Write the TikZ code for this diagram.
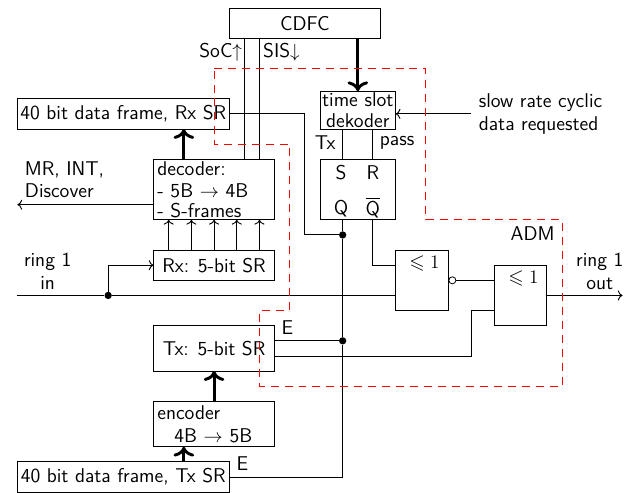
\documentclass[tikz,border=0pt]{standalone}
\usepackage{amsmath,amssymb}
\usepackage{tikz}
\usetikzlibrary{arrows.meta}

\tikzset{
  >={Computer Modern Rightarrow[scale=1.15]},
  box/.style={draw,line width=.7pt,inner sep=1pt,outer sep=0pt},
  lbl/.style={inner sep=0pt,outer sep=0pt},
  dot/.style={circle,fill=black,inner sep=0pt,minimum size=5.5pt},
  wire/.style={line width=.7pt},
  bus/.style={line width=2.2pt,->},
  admline/.style={draw=red,line width=.75pt,dash pattern=on 6pt off 4.5pt}
}

\begin{document}
\begin{tikzpicture}[x=.4cm,y=.4cm,font=\fontsize{15}{17.2}\selectfont\sffamily]
\useasboundingbox (-1.15,.529) rectangle (40.624,-32.05);
% blocks
\node[box,minimum width=4cm,minimum height=.8cm] (cdfc) at (19,-1) {CDFC};
\node[box,minimum width=5.6cm,minimum height=.8cm] (rxframe) at (7,-7) {40 bit data frame, Rx SR};
\node[box,minimum width=3.2cm,minimum height=1.6cm,align=left,anchor=north west,text width=3cm,inner sep=0pt,inner xsep=.1cm] (dec) at (9,-10) {decoder:\\- 5B $\rightarrow$ 4B\\[-2.5pt]- S-frames};
\node[box,minimum width=3.2cm,minimum height=.8cm] (rx) at (13,-17) {Rx: 5-bit SR};
\node[box,minimum width=3.2cm,minimum height=1.2cm] (tx) at (13,-22.5) {Tx: 5-bit SR};
\node[box,minimum width=3.2cm,minimum height=1.2cm,align=left,text width=3cm,inner sep=0pt,inner xsep=.1cm] (enc) at (13,-27.5) {encoder\\\hspace*{.45cm}4B $\rightarrow$ 5B};
\node[box,minimum width=5.6cm,minimum height=.8cm] (txframe) at (7,-31) {40 bit data frame, Tx SR};
\node[box,minimum width=2cm,minimum height=1cm,align=center,text width=1.95cm,inner sep=0pt,font=\fontsize{15}{15.8}\selectfont\sffamily] (slot) at (22.5,-6.75) {time slot\\dekoder};
\node[box,minimum width=2cm,minimum height=1.6cm] (sr) at (22.5,-12) {};
\node[box,minimum width=1.4cm,minimum height=1.6cm] (orA) at (26.75,-18) {};
\node[box,minimum width=1.4cm,minimum height=1.6cm] (orB) at (33.25,-19) {};
\node[draw,circle,line width=.6pt,inner sep=0pt,minimum size=5.3pt] (inv) at (28.75,-18) {};
% junctions
\node[dot] (ringdot) at (6,-19) {};
\node[dot] (qdot) at (21.5,-15) {};
\node[dot] (edot) at (21.5,-22) {};
\coordinate (soc) at (15,-2);
\coordinate (sis) at (16,-2);
\coordinate (txline) at (21.5,-8);
\coordinate (passline) at (23.5,-8);
\coordinate (ringin) at (0,-19);
\coordinate (ringout) at (40,-19);
\coordinate (msgout) at (0,-13);
\coordinate (slowin) at (30,-7);
% wires
\draw[wire] (soc |- cdfc.south) -- (soc |- dec.north);
\draw[wire] (sis |- cdfc.south) -- (sis |- dec.north);
\draw[bus] (22.5,-2) -- (slot.north);
\draw[bus] (11,-10) -- (11,-8);
\draw[bus] (13,-26) -- (13,-24);
\draw[bus] (11,-30) -- (11,-29);
\foreach \x in {10,11.5,13,14.5,16} \draw[wire,->] (\x,-16) -- (\x,-14);
\draw[wire,->] (dec.west |- msgout) -- (msgout);
\draw[wire,->] (ringin) -- (ringdot) |- (rx.west);
\draw[wire] (ringdot) -- (orA.west |- ringdot);
\draw[wire,->] (slowin) -- (slot.east |- slowin);
\draw[wire] (txline) -- (txline |- sr.north);
\draw[wire] (passline) -- (passline |- sr.north);
\draw[wire] (rxframe.east) -- ++(5,0) |- (qdot);
\draw[wire] (qdot |- sr.south) -- (qdot) -- (edot) |- (txframe.east);
\draw[wire] (tx.east |- edot) -- (edot);
\draw[wire] (passline |- sr.south) |- (orA.west |- 0,-17);
\draw[wire] (tx.east |- 0,-23) -| (30,-20) -- (orB.west |- 0,-20);
\draw[wire] (inv) -- (orB.west |- inv);
\draw[wire,->] (orB.east) -- (ringout);
% ADM border
\draw[admline] (13,-4) -- (27,-4) -- (27,-14) -- (36,-14) -- (36,-25) -- (16,-25) -- (16,-20) -- (18,-20) -- (18,-9) -- (13,-9) -- cycle;
% labels
\node[lbl,anchor=east] (soclbl) at (14.85,-2.95) {SoC$\uparrow$};
\node[lbl,anchor=west] (sislbl) at (16.25,-2.95) {SIS$\downarrow$};
\node[lbl,anchor=west,align=left] (msglbl) at (.5,-11.35) {MR, INT,\\Discover};
\node[lbl,align=center] (inlbl) at (2,-17.4) {ring 1\\in};
\node[lbl,align=center] (outlbl) at (38.5,-17.4) {ring 1\\out};
\node[lbl] (elbl) at (17.85,-21.15) {E};
\node[lbl] (etxlbl) at (14.87,-30.1) {E};
\node[lbl] (admlbl) at (34.05,-14.9) {ADM};
\node[lbl] (txlbl) at (20.35,-8.9) {Tx};
\node[lbl] (passlbl) at (25.1,-8.9) {pass};
\node[lbl] (slbl) at (21.4,-10.9) {S};
\node[lbl] (rlbl) at (23.5,-10.9) {R};
\node[lbl] (qlbl) at (21.4,-13.25) {Q};
\node[lbl] (qbarlbl) at (23.5,-13.2) {$\overline{\text{Q}}$};
\node[lbl] (oralbl) at (26.9,-16.9) {$\leqslant 1$};
\node[lbl] (orblbl) at (33.45,-17.9) {$\leqslant 1$};
\node[lbl,anchor=west,align=left] (slowlbl) at (30.5,-7) {slow rate cyclic\\data requested};
\end{tikzpicture}
\end{document}
